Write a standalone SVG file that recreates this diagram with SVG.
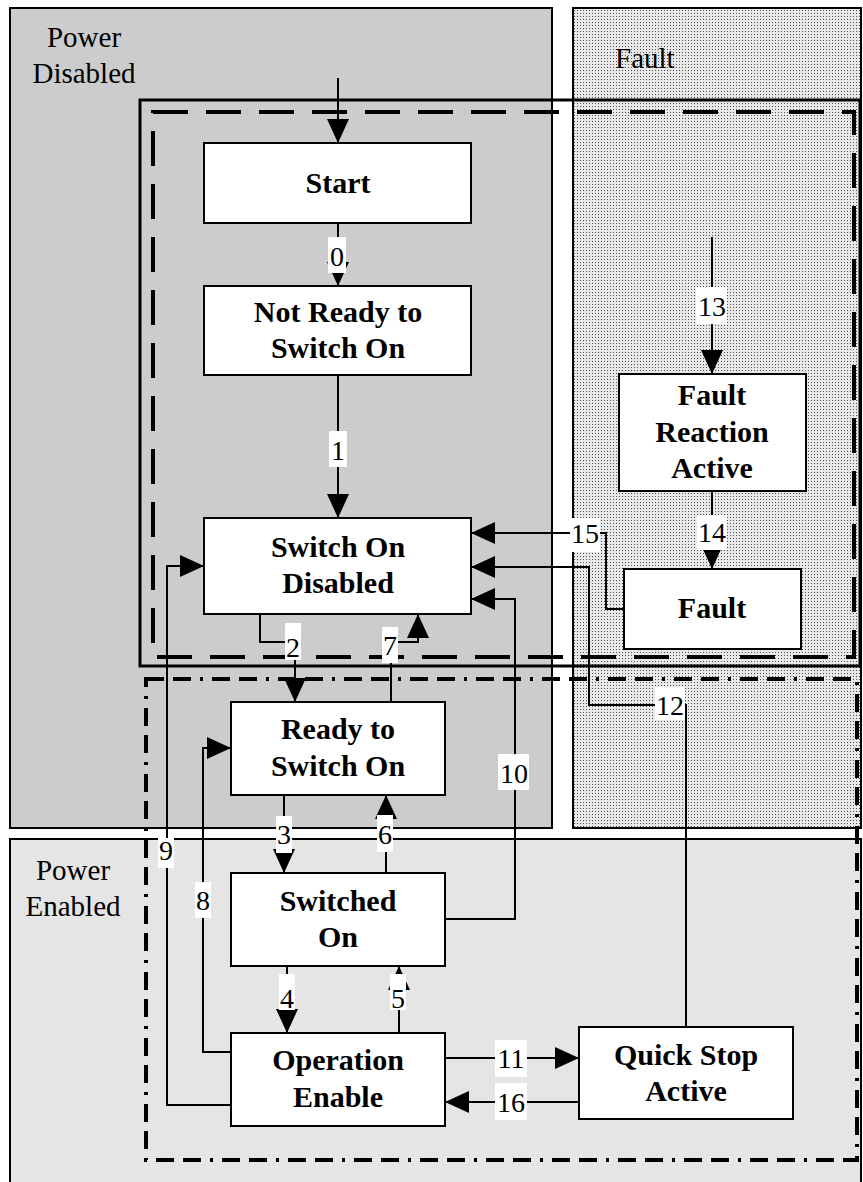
<svg xmlns="http://www.w3.org/2000/svg" width="863" height="1182" viewBox="0 0 863 1182">
<defs>
<pattern id="dots" width="3" height="3" patternUnits="userSpaceOnUse">
<rect width="3" height="3" fill="#e8e8e8"/>
<rect x="1" y="1" width="1" height="1" fill="#505050"/>
</pattern>
<marker id="ah" markerUnits="userSpaceOnUse" markerWidth="24" markerHeight="22" viewBox="0 0 24 22" refX="24" refY="11" orient="auto">
<path d="M0,0 L24,11 L0,22 z" fill="#000"/>
</marker>
<style>
.region{stroke:#000;stroke-width:2}
.rlabel{font-family:"Liberation Serif","Times New Roman",serif;font-size:29px;fill:#000}
.node rect{fill:#fff;stroke:#000;stroke-width:2}
.node text{font-family:"Liberation Serif","Times New Roman",serif;font-size:30px;font-weight:bold;text-anchor:middle;fill:#000}
.conn path{fill:none;stroke:#000;stroke-width:2}
.arr{marker-end:url(#ah)}
.lbl rect{fill:#fff}
.lbl text{font-family:"Liberation Serif","Times New Roman",serif;font-size:28px;text-anchor:middle;fill:#000}
</style>
</defs>
<rect width="863" height="1182" fill="#fff"/>
<g id="regions">
<rect class="region" x="10" y="8" width="542" height="820" fill="#cccccc"/>
<rect class="region" x="573" y="8" width="288" height="820" fill="url(#dots)"/>
<rect class="region" x="10" y="839" width="851" height="360" fill="#e5e5e5"/>
<text class="rlabel" x="84" y="47" text-anchor="middle">Power</text>
<text class="rlabel" x="84" y="83" text-anchor="middle">Disabled</text>
<text class="rlabel" x="615" y="68">Fault</text>
<text class="rlabel" x="73" y="880" text-anchor="middle">Power</text>
<text class="rlabel" x="73" y="916" text-anchor="middle">Enabled</text>
</g>
<g id="boundaries" fill="none" stroke="#000">
<rect x="140" y="100" width="720" height="566" stroke-width="3"/>
<rect x="153" y="112" width="701" height="545" stroke-width="4" stroke-dasharray="35 18"/>
<rect x="146" y="679" width="711" height="481" stroke-width="4" stroke-dasharray="18 9 18 9 3 9"/>
</g>
<g id="connectors" class="conn">
<path class="arr" d="M338,78 V143"/>
<path class="arr" d="M338,223 V286"/>
<path class="arr" d="M338,375 V518"/>
<path class="arr" d="M260,614 V642 H295 V702"/>
<path class="arr" d="M391,702 V642 H418 V614"/>
<path class="arr" d="M284,795 V873"/>
<path class="arr" d="M386,873 V795"/>
<path class="arr" d="M287,966 V1033"/>
<path class="arr" d="M399,1033 V966"/>
<path class="arr" d="M231,1052 H203 V748 H231"/>
<path class="arr" d="M231,1105 H167 V566 H204"/>
<path class="arr" d="M445,919 H515 V599 H471"/>
<path class="arr" d="M445,1058 H579"/>
<path class="arr" d="M579,1102 H445"/>
<path class="arr" d="M686,1027 V705 H589 V567 H471"/>
<path class="arr" d="M624,609 H606 V533 H471"/>
<path class="arr" d="M712,237 V374"/>
<path class="arr" d="M712,491 V569"/>
</g>
<g id="labels" class="lbl">
<rect x="328" y="237" width="18" height="36"/><text x="337" y="266">0</text>
<rect x="329" y="431" width="18" height="36"/><text x="338" y="460">1</text>
<rect x="285" y="623" width="16" height="37"/><text x="293" y="657">2</text>
<rect x="382" y="627" width="16" height="36"/><text x="390" y="655">7</text>
<rect x="276" y="816" width="16" height="37"/><text x="284" y="844">3</text>
<rect x="377" y="815" width="16" height="37"/><text x="385" y="844">6</text>
<rect x="158" y="838" width="16" height="30"/><text x="166" y="860">9</text>
<rect x="195" y="882" width="16" height="36"/><text x="203" y="910">8</text>
<rect x="498" y="754" width="31" height="36"/><text x="514" y="783">10</text>
<rect x="279" y="974" width="16" height="36"/><text x="287" y="1008">4</text>
<rect x="390" y="974" width="16" height="36"/><text x="398" y="1008">5</text>
<rect x="495" y="1040" width="32" height="37"/><text x="511" y="1068">11</text>
<rect x="495" y="1083" width="32" height="37"/><text x="511" y="1112">16</text>
<rect x="655" y="687" width="30" height="33"/><text x="670" y="715">12</text>
<rect x="570" y="518" width="30" height="34"/><text x="585" y="543">15</text>
<rect x="697" y="515" width="30" height="35"/><text x="712" y="542">14</text>
<rect x="696" y="287" width="31" height="37"/><text x="712" y="316">13</text>
</g>
<g id="node-start" class="node"><rect x="204" y="143" width="267" height="80"/><text x="338" y="193">Start</text></g>
<g id="node-not-ready" class="node"><rect x="204" y="286" width="267" height="89"/><text x="338" y="322">Not Ready to</text><text x="338" y="358">Switch On</text></g>
<g id="node-switch-on-disabled" class="node"><rect x="204" y="518" width="267" height="96"/><text x="338" y="557">Switch On</text><text x="338" y="593">Disabled</text></g>
<g id="node-ready" class="node"><rect x="231" y="702" width="214" height="93"/><text x="338" y="739">Ready to</text><text x="338" y="776">Switch On</text></g>
<g id="node-switched-on" class="node"><rect x="231" y="873" width="214" height="93"/><text x="338" y="911">Switched</text><text x="338" y="947">On</text></g>
<g id="node-operation-enable" class="node"><rect x="231" y="1033" width="214" height="93"/><text x="338" y="1070">Operation</text><text x="338" y="1107">Enable</text></g>
<g id="node-quick-stop" class="node"><rect x="579" y="1027" width="214" height="92"/><text x="686" y="1065">Quick Stop</text><text x="686" y="1101">Active</text></g>
<g id="node-fault-reaction" class="node"><rect x="619" y="374" width="187" height="117"/><text x="712" y="405">Fault</text><text x="712" y="442">Reaction</text><text x="712" y="478">Active</text></g>
<g id="node-fault" class="node"><rect x="624" y="569" width="177" height="80"/><text x="712" y="618">Fault</text></g>
</svg>
